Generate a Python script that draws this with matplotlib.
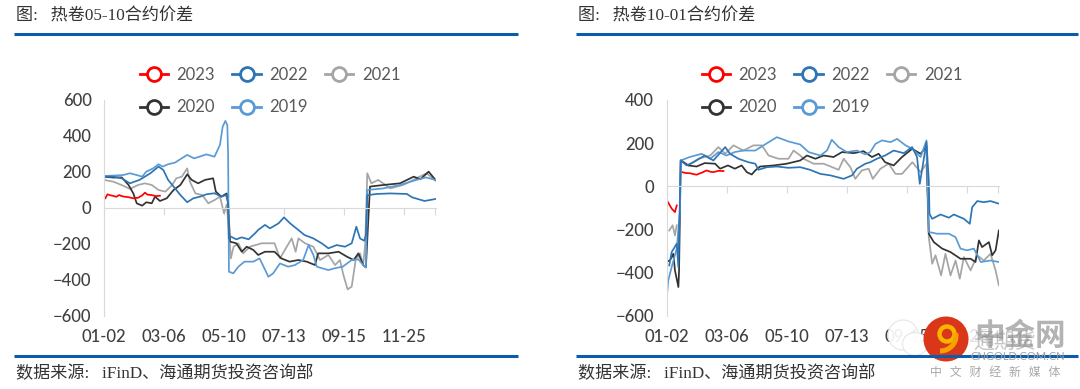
import matplotlib
matplotlib.use("Agg")
import matplotlib.pyplot as plt
from matplotlib.lines import Line2D
from matplotlib.patches import Arc, Circle, Ellipse, Rectangle

plt.rcParams['font.family'] = ['Lato', 'DejaVu Sans']

W, H = 1080, 389
BLUE_RULE = "#0B5CAD"
serif = ['Liberation Serif', 'Noto Sans CJK SC']

titles = ["图:   热卷05-10合约价差", "图:   热卷10-01合约价差"]
source = "数据来源:   iFinD、海通期货投资咨询部"
tick_days = [0, 44, 88, 132, 176, 220, 243]
tick_labels = ["01-02", "03-06", "05-10", "07-13", "09-15", "11-25", ""]
years = ["2023", "2022", "2021", "2020", "2019"]
colors = {"2023": "#FF0000", "2022": "#2E75B6", "2021": "#A5A5A5", "2020": "#333333", "2019": "#5B9BD5"}

# ---- 05-10 spread (trading day index, value)
l23_x = [1, 2.5, 5, 7, 9, 11, 13, 15, 18, 21.5, 25, 28, 30, 32, 35, 38, 41]
l23_y = [54, 76, 70, 67, 62, 72, 66, 63, 60, 54, 57, 70, 85, 74, 72, 66, 68]

l22_x = [0, 7, 13, 19, 26, 34, 40, 43.5, 47, 51, 56, 61, 65.5, 70.4, 75, 81, 86, 89.5, 91, 91.5, 93, 97, 101, 106, 110.7,
         113, 118, 121.7, 128, 132, 136.4, 141, 147, 153.5, 159.6, 164.5, 170.6, 176.7, 181.6, 185, 187.7, 190.8, 192,
         193, 200, 210, 222, 226, 235, 243]
l22_y = [174, 174, 165, 137, 156, 193, 230, 211, 156, 119, 72, 32, 54, 63, 76, 82, 63, 72, 30, -170, -159, -174, -163,
         -174, -141, -122, -94, -113, -85, -52, -85, -113, -150, -169, -196, -224, -206, -215, -196, -104, -169, -182,
         -150, 71, 78, 81, 78, 59, 39, 50]

l21_x = [0, 7, 14, 19, 25, 30, 35, 40, 45, 50, 53, 57, 61, 63, 67, 72, 76.5, 81, 85, 88, 90, 91.5, 93, 95, 98.5, 102, 107,
         115.6, 125, 129, 134, 137.6, 140.5, 142.5, 147.4, 153.5, 158.4, 164.5, 169.4, 173, 175.5, 178.6, 181.6, 184.5,
         187.7, 190, 191.5, 193, 196, 201, 210, 219.4, 229, 236.5, 243]
l21_y = [156, 146, 124, 106, 128, 137, 128, 100, 91, 128, 165, 174, 220, 146, 81, 72, 26, 44, 63, -30, 20, -120, -280,
         -215, -196, -252, -215, -196, -196, -280, -215, -169, -243, -169, -196, -215, -289, -261, -317, -289, -372,
         -452, -437, -289, -252, -317, -200, 193, 137, 156, 109, 128, 165, 193, 152]

l20_x = [0, 7, 13, 18, 21.5, 24, 28, 31, 35, 37.4, 41, 46, 51, 56, 61, 64.3, 69, 74, 80, 82, 86, 90, 91, 92.4, 97, 101,
         104.6, 109.5, 113, 118, 125, 130, 136, 142.5, 148.6, 154.7, 157, 164.5, 172, 178, 183, 186.5, 190, 192, 195,
         205, 217, 227, 232, 238, 243]
l20_y = [174, 169, 170, 128, 81, 26, 13, 32, 26, 63, 39, 54, 100, 128, 187, 156, 137, 156, 165, 91, 63, 81, 20, -187,
         -196, -243, -215, -233, -261, -243, -243, -280, -298, -289, -298, -317, -252, -252, -243, -270, -289, -252,
         -317, -330, 119, 128, 137, 174, 160, 202, 156]

l19_x = [0, 7, 14, 19, 24, 28, 31, 36, 40, 43, 47, 52, 57, 61, 66, 70, 75, 81, 85, 87, 89, 90.4, 91, 91.6, 94.8, 98.5, 103,
         109.5, 114, 117, 120.5, 124, 129, 135, 140, 146, 150, 153.5, 156, 164.5, 169, 175, 181.6, 186.5, 190, 192,
         193, 205, 217, 229, 236, 243]
l19_y = [178, 180, 183, 193, 183, 174, 202, 220, 243, 230, 243, 252, 276, 295, 276, 285, 298, 285, 350, 452, 484, 461,
         295, -354, -363, -326, -298, -298, -280, -326, -382, -363, -308, -326, -317, -289, -206, -261, -326, -345,
         -335, -326, -289, -285, -317, -330, 100, 109, 128, 156, 170, 156]

# ---- 10-01 spread
r23_x = [0.6, 3.8, 6.2, 7.5, None, 11.6, 14, 17.2, 19, 22, 26, 29.4, 32, 34.3, 38, 41.7]
r23_y = [-68, -103, -119, -88, None, 66, 62, 61, 58, 54, 64, 74, 68, 66, 72, 71]

r22_x = [2, 3.8, 7.5, 8.7, 9.4, 10.4, 14.8, 19.7, 28, 34.3, 43, 46.5, 52.7, 60, 65, 67.3, 73.5, 80.8, 89.3, 97.9, 105,
         112.6, 120, 129.7, 135.8, 139.4, 145.6, 149.2, 154, 160, 166.3, 173.7, 179.8, 183.4, 185.4, 187.8, 190.3, 192,
         192.5, 194.5, 200.6, 206.7, 210.3, 217.7, 222, 223.8, 227.5, 232.3, 237.2, 243.3]
r22_y = [-366, -304, -265, -373, -173, 120, 97, 112, 143, 120, 182, 151, 128, 112, 105, 77, 89, 92, 86, 89, 77, 58, 51,
         35, 51, 82, 105, 112, 128, 143, 166, 154, 182, 136, 12, 105, 205, 28, -127, -150, -130, -145, -130, -150, -173,
         -96, -68, -73, -68, -80]

r21_x = [2, 4.5, 6.2, 7.5, None, 11, 16, 23.3, 32, 38, 43, 49, 56.3, 63.7, 69.8, 74.7, 82, 89.3, 93, 97.9, 100.3, 107.7,
         115, 126, 129.7, 134.6, 138.2, 143, 148, 151, 156.6, 162.7, 167.6, 172.4, 180, 186, 190.3, 192, 194.5, 196.9,
         201, 204.2, 207.9, 211.6, 214.7, 217.7, 222.6, 227.5, 232.3, 237.2, 240.9, 243.3]
r21_y = [-204, -180, -227, -180, None, 120, 97, 128, 143, 182, 151, 190, 166, 190, 190, 143, 128, 128, 166, 143, 128,
         105, 105, 77, 128, 89, 35, 74, 82, 35, 82, 105, 58, 58, 112, 66, 105, -235, -358, -319, -412, -312, -412, -343,
         -427, -327, -389, -319, -343, -312, -389, -458]

r20_x = [0, 2.6, 5, 6.2, 8.7, 9.2, 10.4, 16, 22, 28, 35.6, 39.2, 45, 50, 55, 58.8, 62.4, 65, 68.5, 78.3, 88, 97.9, 102.8,
         109, 115, 122.3, 128.5, 137, 144.3, 150.4, 155.3, 160, 166.3, 172.4, 179.8, 186, 190.3, 192, 195.7, 201.8,
         207.9, 215.2, 222.6, 226.2, 228.7, 231, 236, 238.4, 240.9, 243.3]
r20_y = [-350, -342, -312, -389, -466, -389, 120, 97, 92, 108, 105, 82, 97, 82, 97, 66, 55, 74, 92, 97, 105, 120, 143,
         128, 143, 136, 159, 154, 163, 136, 151, 112, 97, 136, 174, 151, 185, -219, -258, -288, -304, -335, -335, -350,
         -250, -281, -258, -319, -296, -204]

r19_x = [0, 1.3, 3.8, 7.5, 9.9, 10.4, 17, 25.8, 32, 38, 44, 50, 56.3, 65, 71, 80.8, 89.3, 97.9, 104, 112.6, 117.5, 121,
         126, 132, 139.4, 145.6, 149.2, 153, 157.8, 164, 168.8, 175, 180, 186, 190.3, 192, 198, 206.7, 211.6, 215.2,
         220, 225, 230, 237.2, 243.3]
r19_y = [-528, -435, -373, -288, -111, 120, 136, 151, 128, 159, 143, 159, 166, 166, 190, 228, 208, 194, 159, 143, 166,
         216, 182, 159, 166, 148, 159, 197, 213, 205, 220, 190, 174, 136, 213, -211, -219, -219, -235, -288, -296, -288,
         -350, -343, -350]

left_series = {"2023": (l23_x, l23_y), "2022": (l22_x, l22_y), "2021": (l21_x, l21_y), "2020": (l20_x, l20_y), "2019": (l19_x, l19_y)}
right_series = {"2023": (r23_x, r23_y), "2022": (r22_x, r22_y), "2021": (r21_x, r21_y), "2020": (r20_x, r20_y), "2019": (r19_x, r19_y)}


def make_axes(fig, x0, x1, y0, y1):
    return fig.add_axes([x0 / W, 1 - y1 / H, (x1 - x0) / W, (y1 - y0) / H])


def draw_chart(ax, series, ylim, yticks, pad):
    for yr in ["2021", "2020", "2023", "2019", "2022"]:
        x, y = series[yr]
        x = [float('nan') if v is None else v for v in x]
        y = [float('nan') if v is None else v for v in y]
        ax.plot(x, y, color=colors[yr], lw=1.25, solid_joinstyle='round')
    ax.set_xlim(0, 243.4)
    ax.set_ylim(*ylim)
    ax.set_yticks(yticks)
    ax.set_xticks(tick_days)
    ax.set_xticklabels(tick_labels)
    for s in ['top', 'right']:
        ax.spines[s].set_visible(False)
    ax.spines['bottom'].set_position(('data', 0))
    ax.spines['bottom'].set_color("#D9D9D9")
    ax.spines['left'].set_color("#D9D9D9")
    ax.tick_params(axis='x', colors="#D9D9D9", labelcolor="#404040", labelsize=12, length=5, pad=pad)
    ax.tick_params(axis='y', length=0, labelcolor="#404040", labelsize=12, pad=9)
    ax.patch.set_alpha(0)
    for t in ax.get_xticklabels() + ax.get_yticklabels():
        t.set_fontweight('medium')
    handles = []
    for yr in ["2023", "2020", "2022", "2019", "2021"]:
        handles.append(Line2D([], [], color=colors[yr], lw=2, marker='o', ms=10, mfc='white', mew=2, label=yr))
    ax.legend(handles=handles, ncol=3, frameon=False, fontsize=12, labelcolor="#595959",
              loc='center', handlelength=1.7, handletextpad=0.5, columnspacing=1.05, labelspacing=1.0)


fig = plt.figure(figsize=(W / 100, H / 100), dpi=100, facecolor='white')

ax1 = make_axes(fig, 104, 436, 100, 316)
draw_chart(ax1, left_series, (-600, 600), list(range(-600, 601, 200)), 82)
ax2 = make_axes(fig, 666.5, 999, 100, 316)
draw_chart(ax2, right_series, (-600, 400), list(range(-600, 401, 200)), 98)
ax1.get_legend().set_bbox_to_anchor((270 / W, 1 - 91 / H), transform=fig.transFigure)
ax2.get_legend().set_bbox_to_anchor((832 / W, 1 - 91 / H), transform=fig.transFigure)

# overlay in pixel coordinates for rules, headings and the watermark
top = fig.add_axes([0, 0, 1, 1])
top.set_xlim(0, W)
top.set_ylim(H, 0)
top.axis('off')
top.patch.set_alpha(0)

for x0, x1, title, txt_x in [(14, 518, titles[0], 16), (576, 1078, titles[1], 578)]:
    top.plot([x0, x1], [34, 34], color=BLUE_RULE, lw=2.2, solid_capstyle='butt')
    top.plot([x0, x1], [355.5, 355.5], color=BLUE_RULE, lw=2.2, solid_capstyle='butt')
    top.text(txt_x, 16, title, family=serif, fontsize=12.3, color="#333333", va='center', ha='left')
    top.text(txt_x, 374, source, family=serif, fontsize=12.3, color="#333333", va='center', ha='left')

# wechat bubbles, then the logo and wordmark
top.add_patch(Ellipse((903, 335), 30, 30, fc='white', ec='#E4E4E4', lw=0.8, alpha=0.92))
top.add_patch(Ellipse((915, 344), 25, 23, fc='white', ec='#E4E4E4', lw=0.8, alpha=0.92))
top.add_patch(Rectangle((945, 322), 115, 31, fc='white', ec='none', alpha=0.85))
top.add_patch(Circle((946, 339), 22.5, fc='#D9361A', ec='none'))
top.add_patch(Circle((947, 334), 7.5, fc='none', ec='#F7B500', lw=3.2))
top.add_patch(Arc((940, 336), 32, 30, theta1=-10, theta2=90, ec='#F7A000', lw=3.6))
top.text(1020, 336, "中金网", family=['Noto Sans CJK SC'], fontsize=22, fontweight='bold', color='#9A9A9A', ha='center', va='center', alpha=0.75)
top.text(1004, 342, "通期货", family=['Noto Sans CJK SC'], fontsize=15, color='#8A8A8A', ha='center', va='center', alpha=0.5)
top.text(1065, 357, "CNGOLD.COM.CN", fontsize=8, color='#A0A0A0', ha='right', va='center')
top.text(995, 372, "中   文   财   经   新   媒   体", family=['Noto Sans CJK SC'], fontsize=8.6, color='#A8A8A8', ha='center', va='center')

fig.savefig("out.png", dpi=100)
